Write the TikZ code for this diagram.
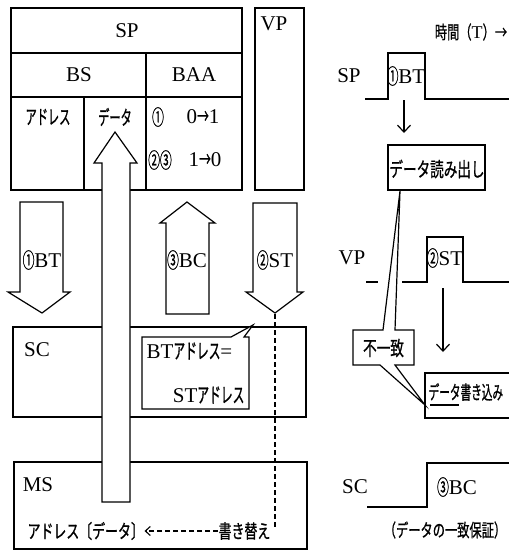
\documentclass[tikz,border=0pt]{standalone}
\usepackage{fontspec}
\setmainfont{Liberation Serif}
\newfontfamily\cjk[FakeStretch=0.68,FakeBold=0.8]{Noto Sans CJK JP}
\newfontfamily\cjkn[FakeStretch=0.56,FakeBold=0.8]{Noto Sans CJK JP}
\usetikzlibrary{arrows.meta}
\begin{document}
\begin{tikzpicture}[x=1pt,y=-1pt,line width=1.2pt,
  lat/.style={font=\fontsize{21}{21}\selectfont, inner sep=0pt},
  jp/.style={font=\fontsize{20}{20}\selectfont\cjk, inner sep=0pt},
  jpn/.style={font=\fontsize{20}{20}\selectfont\cjkn, inner sep=0pt},
  blockarrow/.style={draw, fill=white, line join=miter},
  callout/.style={draw, fill=white, line join=miter},
  sig/.style={-{Straight Barb[length=7pt,width=13pt]}},
  dashline/.style={dash pattern=on 5pt off 3pt, line width=1.1pt}]
\useasboundingbox (0,0) rectangle (509,552);

% ---------- left: SP / VP boxes ----------
\draw (11,8) rectangle (242,190);
\draw (11,53) -- (242,53);
\draw (11,97) -- (242,97);
\draw (146,53) -- (146,190);
\draw (84,97) -- (84,190);
\draw (255,8) rectangle (304,190);

\node[lat] (spH) at (127,31) {SP};
\node[lat] (bsH) at (79,75) {BS};
\node[lat] (baaH) at (194,75) {BAA};
\node[jpn] (adrH) at (48,117) {アドレス};
\node[jpn] (datH) at (115,117) {データ};
\node[lat] (c1) at (158,117) {\cjkn ①};
\node[lat] (c01) at (203,117) {0{\cjkn →}1};
\node[lat] (c23) at (160,160) {\cjkn ②③};
\node[lat] (c10) at (205,160) {1{\cjkn →}0};
\node[lat] (vpH) at (274,24) {VP};

% ---------- SC / MS boxes ----------
\draw (13,327) rectangle (306,417);
\draw (14,462) rectangle (307,549);
\node[lat] (scL) at (37,350) {SC};
\node[lat] (msL) at (38,485) {MS};

% ---------- block arrows ----------
\draw[blockarrow] (20,202) -- (63,202) -- (63,292) -- (70,292) -- (42,313) -- (8,292) -- (20,292) -- cycle;
\node[lat] (btA) at (42,260) {{\cjkn ①}BT};
\draw[blockarrow] (166,314) -- (209,314) -- (209,223) -- (215,223) -- (187,202) -- (160,223) -- (166,223) -- cycle;
\node[lat] (bcA) at (187,260) {{\cjkn ③}BC};
\draw[blockarrow] (253,203) -- (297,203) -- (297,292) -- (303,292) -- (275,313) -- (246,292) -- (253,292) -- cycle;
\node[lat] (stA) at (275,260) {{\cjkn ②}ST};
\coordinate (stTip) at (275,314);
\coordinate (stEnd) at (275,527);

% big up arrow (data)
\draw[blockarrow] (102,502) -- (130,502) -- (130,163) -- (137,163) -- (115,132) -- (94,163) -- (102,163) -- cycle;

% callout in SC
\draw[callout] (142,337) -- (231,337) -- (253,325) -- (244,337) -- (249,337) -- (249,409) -- (142,409) -- cycle;
\node[lat, anchor=west] (btAdr) at (146,351) {BT{\cjkn アドレス}=};
\node[lat, anchor=east] (stAdr) at (245,395) {ST{\cjkn アドレス}};

% dashed write-back
\draw[dashline] (stTip) -- (stEnd);
\node[jp, anchor=west, font=\fontsize{19}{19}\selectfont\cjk] (msAdr) at (27,531) {アドレス〔データ〕};
\node[jp, anchor=west, font=\fontsize{19}{19}\selectfont\cjk] (rewrite) at (218,531) {書き替え};
\draw[dashline, -{Straight Barb[length=5pt,width=9pt]}] (rewrite.west) -- (msAdr.east);

% ---------- right: timing chart ----------
\node[jp, font=\fontsize{18}{18}\selectfont\cjk] (time) at (471,32) {時間（{\rmfamily T}）→};

\node[lat] (spR) at (349,76) {SP};
\draw (365,99) -- (388,99) -- (388,53) -- (425,53) -- (425,99) -- (509,99);
\node[lat] (btR) at (406,76) {{\cjkn ①}BT};
\coordinate (a1s) at (404,100);
\coordinate (a1e) at (404,133);
\draw[sig] (a1s) -- (a1e);
\node[draw, minimum width=97pt, minimum height=45pt, inner sep=0pt] (rdBox) at (436.5,167.5) {};
\node[jp] (rdT) at (437,169) {データ読み出し};

\node[lat] (vpR) at (352,258) {VP};
\draw (366,282) -- (378,282);
\draw (402,282) -- (427,282) -- (427,237) -- (463,237) -- (463,282) -- (509,282);
\node[lat] (stR) at (445,258) {{\cjkn ②}ST};
\coordinate (a2s) at (443,288);
\coordinate (a2e) at (443,352);
\draw[sig] (a2s) -- (a2e);

\draw (509,373) -- (425,373) -- (425,418) -- (509,418);
\node[jp, anchor=west, font=\fontsize{19}{19}\selectfont\cjkn] (wrT) at (428,392) {データ書き込み};
\draw (430,405) -- (459,405);

% mismatch callout
\draw[callout] (353,330) -- (383,330) -- (400,191) -- (395,330) -- (414,330) -- (414,365) -- (395,365) -- (425,405) -- (380,365) -- (353,365) -- cycle;
\node[jp] (mis) at (383.5,348) {不一致};

\node[lat] (scR) at (355,487) {SC};
\draw (367,507) -- (427,507) -- (427,463) -- (509,463);
\node[lat] (bcR) at (457,487) {{\cjkn ③}BC};
\node[jp, font=\fontsize{18}{18}\selectfont\cjk] (guar) at (445,530) {（データの一致保証）};
\end{tikzpicture}
\end{document}
